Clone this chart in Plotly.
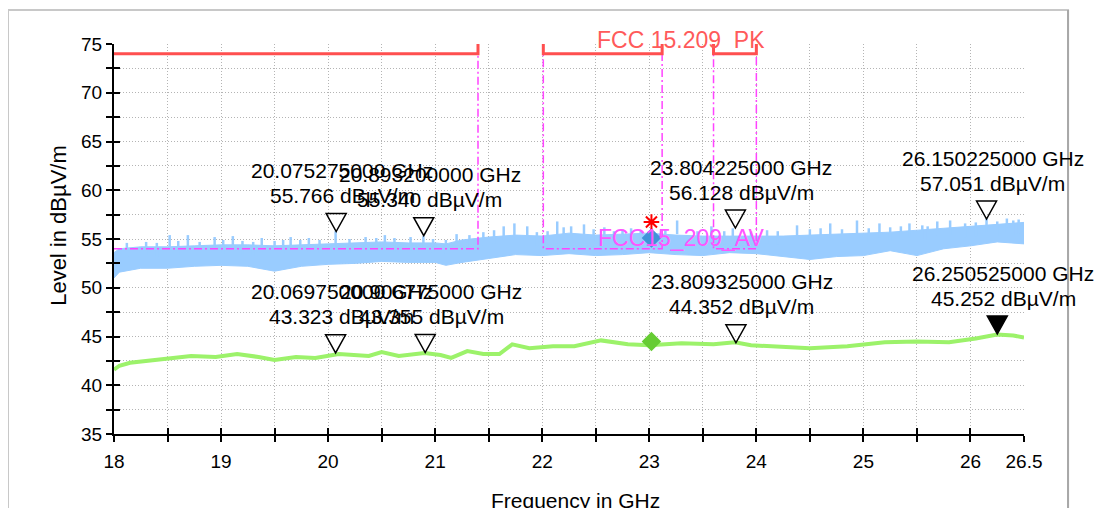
import plotly.graph_objects as go

# ---------------- data ----------------
# blue (peak detector) trace: envelope of the noisy band
freq_env = [18.0, 18.05, 18.25, 18.5, 18.75, 19.0, 19.25, 19.5, 19.75, 20.0, 20.25, 20.5, 20.75,
            21.0, 21.1, 21.25, 21.5, 21.75, 22.0, 22.25, 22.5, 22.75, 23.0, 23.25, 23.5, 23.75,
            24.0, 24.25, 24.5, 24.75, 25.0, 25.25, 25.5, 25.75, 26.0, 26.25, 26.5]
blue_upper = [53.6, 54.0, 54.2, 54.2, 54.3, 54.4, 54.4, 54.3, 54.4, 54.5, 54.6, 54.7, 54.6,
              54.6, 54.5, 54.9, 55.2, 55.4, 55.3, 55.6, 55.4, 55.5, 55.6, 55.4, 55.3, 55.3,
              55.3, 55.3, 55.4, 55.5, 55.6, 55.7, 55.9, 56.1, 56.3, 56.5, 56.7]
blue_lower = [51.0, 51.6, 52.0, 52.0, 52.2, 52.3, 52.2, 51.7, 52.2, 52.4, 52.5, 52.7, 52.6,
              52.6, 52.3, 52.6, 53.0, 53.4, 53.3, 53.5, 53.3, 53.4, 53.6, 53.4, 53.3, 53.6,
              53.5, 53.2, 52.9, 53.2, 53.3, 53.8, 53.3, 54.0, 54.3, 54.7, 54.5]
# tallest spikes of the blue trace
spike_f = [18.52, 18.69, 18.94, 19.11, 19.38, 19.65, 19.82, 20.07, 20.35, 20.53, 20.77, 20.89,
           21.2, 21.64, 21.74, 21.86, 22.14, 22.27, 22.39, 22.67, 22.83, 23.02, 23.26, 23.58,
           23.78, 24.38, 24.69, 24.94, 25.15, 25.43, 25.69, 25.81, 26.15, 26.34, 26.4]
spike_top = [55.4, 55.4, 55.2, 55.3, 55.1, 55.2, 55.1, 55.8, 55.2, 55.4, 55.2, 55.3,
             55.5, 56.3, 56.6, 56.3, 56.8, 56.3, 56.5, 55.8, 56.1, 56.1, 56.9, 56.3,
             56.1, 56.4, 56.6, 56.9, 56.6, 56.6, 56.8, 56.9, 57.1, 57.1, 56.9]
# smaller spikes of the blue trace
minor_spike_f = [18.12, 18.3, 18.4, 18.6, 18.8, 19.02, 19.2, 19.3, 19.5, 19.58, 19.74, 19.92,
                 20.2, 20.45, 20.62, 20.98, 21.1, 21.32, 21.45, 21.55, 21.95, 22.05, 22.2, 22.48,
                 22.58, 22.75, 22.92, 23.15, 23.45, 23.7, 23.95, 24.1, 24.2, 24.5, 24.6, 24.8,
                 25.05, 25.25, 25.35, 25.55, 25.6, 25.95, 26.05, 26.25, 26.45]
minor_spike_top = [54.6, 54.7, 54.6, 54.8, 54.7, 54.9, 54.8, 54.7, 54.8, 54.9, 54.9, 54.9,
                   55.0, 55.1, 55.1, 55.0, 54.9, 55.4, 55.7, 55.9, 55.7, 55.8, 56.2, 56.0,
                   56.2, 56.0, 55.9, 56.0, 55.8, 55.8, 55.8, 55.9, 55.8, 56.0, 56.1, 56.0,
                   56.1, 56.2, 56.3, 56.4, 56.3, 56.6, 56.7, 56.8, 57.0]

# green (average detector) trace
green_f = [18.0, 18.05, 18.15, 18.3, 18.55, 18.72, 18.95, 19.15, 19.35, 19.5, 19.7, 19.88, 20.1,
           20.38, 20.5, 20.66, 20.9, 21.05, 21.15, 21.3, 21.45, 21.6, 21.72, 21.88, 22.1, 22.3,
           22.55, 22.8, 23.0, 23.3, 23.6, 23.8, 23.95, 24.25, 24.5, 24.85, 25.2, 25.5, 25.8,
           26.05, 26.25, 26.4, 26.5]
green_level = [41.6, 42.0, 42.3, 42.5, 42.8, 43.0, 42.9, 43.2, 42.9, 42.6, 42.9, 42.8, 43.2,
               43.0, 43.4, 43.0, 43.3, 43.1, 42.8, 43.5, 43.2, 43.2, 44.2, 43.8, 44.0, 44.0,
               44.6, 44.2, 44.1, 44.3, 44.2, 44.4, 44.1, 43.9, 43.8, 44.0, 44.4, 44.5, 44.4,
               44.8, 45.2, 45.1, 44.9]

# FCC 15.209 limits inside the restricted bands
band_start = [18.0, 22.01, 23.6]
band_end = [21.4, 23.12, 24.0]
pk_limit = 74.0
av_limit = 54.0
off_scale = 80.0  # limit undefined outside the bands (drawn off the top)

# markers
pk_mk_f = [20.075275, 20.8932, 23.804225, 26.150225]
pk_mk_v = [55.766, 55.340, 56.128, 57.051]
av_mk_f = [20.06975, 20.906775, 23.809325, 26.250525]
av_mk_v = [43.323, 43.355, 44.352, 45.252]

# final measurement points
final_f = [23.02]
final_pk_star = [56.74]
final_pk = [55.1]
final_av = [44.5]

# axis ticks
x_tickvals = [18, 18.5, 19, 19.5, 20, 20.5, 21, 21.5, 22, 22.5, 23, 23.5, 24, 24.5, 25, 25.5, 26, 26.5]
x_ticktext = ["18", "", "19", "", "20", "", "21", "", "22", "", "23", "", "24", "", "25", "", "26", "26.5"]
y_tickvals = [35, 37.5, 40, 42.5, 45, 47.5, 50, 52.5, 55, 57.5, 60, 62.5, 65, 67.5, 70, 72.5, 75]
y_ticktext = ["35", "", "40", "", "45", "", "50", "", "55", "", "60", "", "65", "", "70", "", "75"]

# ---------------- figure ----------------
FONT = "Liberation Sans, Arial, sans-serif"
BLUE = "#99ccff"
GREEN = "#9cf26a"
RED = "#ff4f4f"
MAGENTA = "#ff44ff"

fig = go.Figure()

# blue band
fig.add_trace(go.Scatter(x=freq_env, y=blue_lower, mode="lines", line=dict(color=BLUE, width=1),
                         hoverinfo="skip"))
fig.add_trace(go.Scatter(x=freq_env, y=blue_upper, mode="lines", line=dict(color=BLUE, width=1),
                         fill="tonexty", fillcolor=BLUE, hoverinfo="skip"))
sx, sy = [], []
for f, t in zip(spike_f + minor_spike_f, spike_top + minor_spike_top):
    sx += [f, f, None]
    sy += [t, t - 1.4, None]
fig.add_trace(go.Scatter(x=sx, y=sy, mode="lines", line=dict(color=BLUE, width=2.5), hoverinfo="skip"))

# green line
fig.add_trace(go.Scatter(x=green_f, y=green_level, mode="lines", line=dict(color=GREEN, width=4),
                         hoverinfo="skip"))

# limit lines
def limit_path(level):
    xs, ys = [], []
    for s, e in zip(band_start, band_end):
        if s > freq_env[0]:
            xs += [s]
            ys += [off_scale]
        xs += [s, e, e, None]
        ys += [level, level, off_scale, None]
    return xs, ys

ax_, ay_ = limit_path(av_limit)
fig.add_trace(go.Scatter(x=ax_, y=ay_, mode="lines",
                         line=dict(color=MAGENTA, width=1.5, dash="8px,3px,2px,3px"), hoverinfo="skip"))
px_, py_ = limit_path(pk_limit)
fig.add_trace(go.Scatter(x=px_, y=py_, mode="lines", line=dict(color=RED, width=3), hoverinfo="skip"))

# final points
fig.add_trace(go.Scatter(x=final_f, y=final_pk, mode="markers",
                         marker=dict(symbol="diamond", size=15, color="#3f93d8"), hoverinfo="skip"))
fig.add_trace(go.Scatter(x=final_f, y=final_av, mode="markers",
                         marker=dict(symbol="diamond", size=15, color="#66cc33"), hoverinfo="skip"))
fig.add_trace(go.Scatter(x=final_f, y=final_pk_star, mode="markers",
                         marker=dict(symbol="asterisk-open", size=13, color="red",
                                     line=dict(color="red", width=2)), hoverinfo="skip"))

# dummy trace for the overlay axes (ticks crossing the axis lines)
fig.add_trace(go.Scatter(x=green_f[:1], y=green_level[:1], xaxis="x2", yaxis="y2", mode="markers",
                         marker=dict(opacity=0), hoverinfo="skip"))

shapes = []
annotations = []

# marker triangles and labels
all_f = pk_mk_f + av_mk_f
all_v = pk_mk_v + av_mk_v
for i, (f, v) in enumerate(zip(all_f, all_v)):
    active = (i == len(all_f) - 1)
    shapes.append(dict(type="path", xref="x", yref="y", xsizemode="pixel", ysizemode="pixel",
                       xanchor=f, yanchor=v, path="M-10,18 L10,18 L0,0 Z",
                       line=dict(color="black", width=1.5),
                       fillcolor="black" if active else "rgba(0,0,0,0)", layer="above"))
    annotations.append(dict(x=f, y=v, xref="x", yref="y", text=f"{f:.9f} GHz", showarrow=False,
                            xshift=6, yshift=61, yanchor="middle", xanchor="center",
                            font=dict(family=FONT, size=21, color="black")))
    annotations.append(dict(x=f, y=v, xref="x", yref="y", text=f"{v:.3f} dBµV/m", showarrow=False,
                            xshift=6, yshift=36, yanchor="middle", xanchor="center",
                            font=dict(family=FONT, size=21, color="black")))

# limit names
annotations.append(dict(x=23.3, y=1.0, xref="x", yref="paper", text="FCC 15.209  PK", showarrow=False,
                        yshift=4, font=dict(family=FONT, size=23, color="#ff5a5a"), yanchor="middle"))
annotations.append(dict(x=23.3, y=55.15, xref="x", yref="y", text="FCC15_209_AV", showarrow=False,
                        font=dict(family=FONT, size=23, color="#ff55ff"), yanchor="middle"))

# axis titles
annotations.append(dict(x=-0.061, y=0.535, xref="paper", yref="paper", text="Level in dBµV/m",
                        textangle=-90, showarrow=False, xanchor="center", yanchor="middle",
                        font=dict(family=FONT, size=22, color="black")))
annotations.append(dict(x=0.507, y=-0.17, xref="paper", yref="paper", text="Frequency in GHz",
                        showarrow=False, xanchor="center", yanchor="middle",
                        font=dict(family=FONT, size=21, color="black")))

# outer frame
shapes.append(dict(type="rect", xref="paper", yref="paper", x0=-0.1165, x1=1.0484, y0=-0.3, y1=1.0872,
                   line=dict(color="#c8c8c8", width=2), fillcolor="rgba(0,0,0,0)", layer="below"))
shapes.append(dict(type="line", xref="paper", yref="paper", x0=1.0484, x1=1.0484, y0=-0.3, y1=1.0872,
                   line=dict(color="#a8a8a8", width=2)))

axis_common = dict(showline=True, linecolor="black", linewidth=2, ticks="outside", ticklen=6,
                   tickwidth=1.5, tickcolor="black", showgrid=True, gridcolor="#b4b4b4",
                   griddash="1px,2px", gridwidth=1, zeroline=False,
                   tickfont=dict(family=FONT, size=19, color="black"))

# page body has an 8px margin: shift the figure so the plot area lands at the reference pixels
fig.update_layout(
    width=1107, height=508,
    margin=dict(l=106, r=91, t=36, b=82, pad=0),
    paper_bgcolor="white", plot_bgcolor="white",
    showlegend=False,
    xaxis=dict(range=[18, 26.5], tickvals=x_tickvals, ticktext=x_ticktext,
               ticklabelstandoff=3, **axis_common),
    yaxis=dict(range=[35, 75], tickvals=y_tickvals, ticktext=y_ticktext,
               ticklabelstandoff=0, **axis_common),
    xaxis2=dict(range=[18, 26.5], tickvals=x_tickvals, overlaying="x", anchor="y2", side="bottom",
                ticks="inside", ticklen=6, tickwidth=1.5, tickcolor="black", showticklabels=False,
                showgrid=False, showline=False, zeroline=False),
    yaxis2=dict(range=[35, 75], tickvals=y_tickvals, overlaying="y", anchor="x2", side="left",
                ticks="inside", ticklen=6, tickwidth=1.5, tickcolor="black", showticklabels=False,
                showgrid=False, showline=False, zeroline=False),
    shapes=shapes,
    annotations=annotations,
)

fig.write_html("out.html")
